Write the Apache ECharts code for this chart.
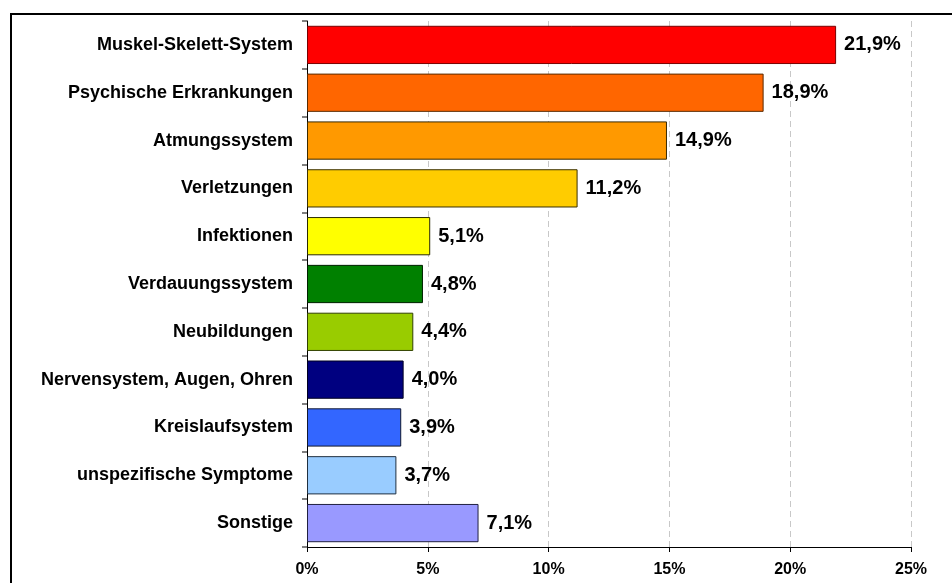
<!DOCTYPE html>
<html>
<head>
<meta charset="utf-8">
<script src="https://cdn.jsdelivr.net/npm/echarts@6/dist/echarts.min.js"></script>
<style>
html,body{margin:0;padding:0;background:#fff;}
#c{width:952px;height:583px;}
</style>
</head>
<body>
<div id="c"></div>
<script>
const categories = ["Muskel-Skelett-System","Psychische Erkrankungen","Atmungssystem","Verletzungen","Infektionen","Verdauungssystem","Neubildungen","Nervensystem, Augen, Ohren","Kreislaufsystem","unspezifische Symptome","Sonstige"];
const values = [21.9, 18.9, 14.9, 11.2, 5.1, 4.8, 4.4, 4.0, 3.9, 3.7, 7.1];
const colors = ["#FF0000","#FF6600","#FF9900","#FFCC00","#FFFF00","#008000","#99CC00","#000080","#3366FF","#99CCFF","#9999FF"];
const borderColors = ["#7a0000","#5a2a00","#3a2a00","#3a3000","#2a2a00","#002000","#304000","#000020","#101830","#203040","#202040"];
const xTicks = [0,5,10,15,20,25];

const font = "'Liberation Sans', Arial, sans-serif";
const chart = echarts.init(document.getElementById('c'));
chart.setOption({
  animation:false,
  backgroundColor:'#fff',
  graphic:[{type:'rect',shape:{x:11,y:14,width:1000,height:700},style:{fill:'none',stroke:'#000',lineWidth:2},silent:true}],
  grid:{left:307,top:21,width:604,height:526,containLabel:false},
  xAxis:{type:'value',min:xTicks[0],max:xTicks[xTicks.length-1],interval:5,
    axisLine:{show:true,lineStyle:{color:'#000',width:1}},
    axisTick:{show:true,length:5,lineStyle:{color:'#000'}},
    axisLabel:{formatter:v=>v+'%',fontFamily:font,fontWeight:'bold',fontSize:16,color:'#000',margin:15},
    splitLine:{show:true,lineStyle:{color:'#c8c8c8',type:[6,4],width:1}}},
  yAxis:{type:'category',data:categories,inverse:true,
    axisLine:{show:true,lineStyle:{color:'#000',width:1}},
    axisTick:{show:true,length:5,lineStyle:{color:'#808080',width:2}},
    axisLabel:{fontFamily:font,fontWeight:'bold',fontSize:18,color:'#000',margin:14,padding:[3,0,0,0]}},
  series:[{type:'bar',barCategoryGap:'20%',
    data:values.map((v,i)=>({value:v,itemStyle:{color:colors[i],borderColor:borderColors[i],borderWidth:1}})),
    label:{show:true,position:'right',distance:8,formatter:p=>p.value.toFixed(1).replace('.',',')+'%',
      fontFamily:font,fontWeight:'bold',fontSize:20,color:'#000'}}]
});
</script>
</body>
</html>
